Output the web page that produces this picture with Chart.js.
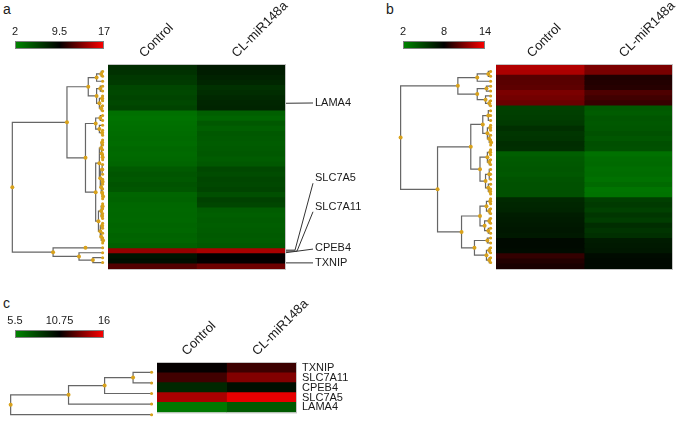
<!DOCTYPE html>
<html>
<head>
<meta charset="utf-8">
<script src="https://cdn.jsdelivr.net/npm/chart.js@4.4.0/dist/chart.umd.min.js"></script>
<style>
    body { margin: 0; background: #fff; width: 685px; height: 425px; position: relative; overflow: hidden;
           font-family: "Liberation Sans", Arial, sans-serif; }
    canvas { position: absolute; }
    .tag { position: absolute; font-size: 14px; color: #1a1a1a; }
</style>
</head>
<body>
<div class="tag" style="left:3px;top:1px">a</div>
<div class="tag" style="left:386px;top:1px">b</div>
<div class="tag" style="left:3px;top:295px">c</div>

<canvas id="cbA" width="120" height="32" style="left:0;top:17px"></canvas>
<canvas id="dendA" width="108" height="204" style="left:0;top:65px"></canvas>
<canvas id="heatA" width="275" height="270" style="left:108px;top:0"></canvas>

<canvas id="cbB" width="112" height="32" style="left:388px;top:17px"></canvas>
<canvas id="dendB" width="104" height="204" style="left:392px;top:65px"></canvas>
<canvas id="heatB" width="189" height="270" style="left:496px;top:0"></canvas>

<canvas id="cbC" width="120" height="32" style="left:0;top:306px"></canvas>
<canvas id="dendC" width="157" height="61" style="left:0;top:363px"></canvas>
<canvas id="heatC" width="195" height="135" style="left:157px;top:290px"></canvas>

<script>
const columns = ['Control', 'CL-miR148a'];

// ---- panel a ----
const scaleA = [2, 9.5, 17];
const ticksA = ['2', '9.5', '17'];
const controlA = [7.0, 6.8, 6.4, 6.3, 5.6, 5.5, 5.7, 5.5, 5.8, 3.3,
                  3.1, 3.3, 3.4, 3.5, 3.6, 3.5, 3.7, 3.6, 3.7, 3.9,
                  4.5, 4.8, 4.6, 4.9, 4.7, 3.9, 4.0, 3.8, 3.7, 3.8,
                  3.7, 3.9, 3.8, 4.0, 3.9, 4.2, 13.9, 8.4, 8.7, 11.9];
const miR148aA = [8.1, 7.9, 7.6, 7.4, 6.8, 7.0, 7.3, 7.4, 7.5, 4.2,
                  3.9, 4.6, 4.2, 4.6, 4.5, 4.4, 4.5, 4.6, 4.4, 4.6,
                  5.5, 5.3, 5.6, 5.5, 5.7, 5.1, 5.9, 5.6, 4.4, 4.2,
                  4.4, 4.3, 4.4, 4.5, 4.4, 4.6, 14.5, 9.6, 9.6, 12.7];
// [height, child, child, ...], leaves are row numbers
const treeA = [99,
    [40,
        [17, [8, [3, 0, 1], 2], [8, [4, 3, 4], [5, [2, 5, 6], [3, 7, 8]]]],
        [20,
            [9, [4, 9, 10], [5, 11, [2, 12, 13]]],
            [9,
                [5, [3, [2, 14, 15], [2.5, 16, [1.5, 17, 18]]],
                    [4, [2, 19, 20, 21], [3, [1.5, 22, 23], [2, 24, [1, 25, 26]]]]],
                [6, [3, [1.5, 27, 28], [2, 29, 30]], [4, [2, 31, 32], [3, 33, [1, 34, 35]]]]]]],
    [55, [20, 36], [27, 37, [12, 38, 39]]]];
const genesA = ['LAMA4', 'SLC7A5', 'SLC7A11', 'CPEB4', 'TXNIP'];
const geneRowsA = [7, 35.8, 36, 36.3, 38.3];

// ---- panel b ----
const scaleB = [2, 8, 14];
const ticksB = ['2', '8', '14'];
const controlB = [12.2, 12.0, 10.0, 10.1, 10.2, 10.9, 10.7, 10.5, 5.1, 5.2,
                  5.3, 5.4, 5.9, 5.6, 5.7, 6.0, 5.9, 3.8, 4.0, 4.1,
                  4.2, 4.1, 4.3, 4.4, 4.4, 4.4, 6.2, 6.3, 6.4, 6.7,
                  6.8, 6.9, 7.0, 6.9, 7.6, 7.6, 7.5, 9.2, 8.8, 8.6];
const miR148aB = [10.9, 10.8, 8.7, 8.8, 8.9, 9.8, 9.5, 9.3, 4.1, 3.9,
                  4.2, 4.1, 4.2, 4.4, 4.2, 4.5, 4.4, 3.0, 3.2, 3.3,
                  3.1, 3.2, 3.0, 3.3, 2.8, 2.9, 5.2, 5.4, 5.1, 5.6,
                  5.3, 6.0, 5.7, 5.9, 6.8, 6.9, 7.0, 7.5, 7.6, 7.6];
const treeB = [99,
    [37, [16, [4, 0, 1], 2], [16, [6, 3, 4], [7, 5, [3, 6, 7]]]],
    [59,
        [23,
            [10, [4, 8, 9, 10], [5, [2, 11, 12], [3, 13, [1, 14, 15]]]],
            [13, [5, [2, 16, 17], [3, 18, 19]], [7, [3, 20, 21, 22], [4, 23, [2, 24, 25]]]]],
        [33,
            [13, [6, [2, 26, 27], [3, 28, 29]], [8, [3, 30, 31], [4, 32, 33]]],
            [19, [5, 34, 35], [6, [3, 36, 37], [3, 38, 39]]]]]];

// ---- panel c ----
const scaleC = [5.5, 10.75, 16];
const ticksC = ['5.5', '10.75', '16'];
const genesC = ['TXNIP', 'SLC7A11', 'CPEB4', 'SLC7A5', 'LAMA4'];
const controlC = [10.85, 12.09, 9.19, 14.25, 6.08];
const miR148aC = [11.99, 13.43, 10.17, 15.49, 7.25];
const treeC = [150, [89, [51, [21, 0, 1], 2], 3], 4];

const FONT = '"Liberation Sans", Arial, sans-serif';
Chart.defaults.font.family = FONT;
Chart.defaults.color = '#1a1a1a';

// green -> black -> red
function heatColor(v, s) {
    const [lo, mid, hi] = s;
    if (v <= mid) {
        const t = Math.min(1, (mid - v) / (mid - lo));
        return 'rgb(0,' + Math.round(135 * t) + ',0)';
    }
    const t = Math.min(1, (v - mid) / (hi - mid));
    return 'rgb(' + Math.round(255 * t) + ',0,0)';
}

const heatDecor = {
    id: 'heatDecor',
    afterDatasetsDraw(chart, args, o) {
        const { ctx, chartArea: a, scales: { x, y } } = chart;
        ctx.save();
        ctx.strokeStyle = '#c4c4c4';
        ctx.lineWidth = 1;
        ctx.strokeRect(a.left - 0.5, a.top - 0.5, a.right - a.left + 1, a.bottom - a.top + 1);

        // rotated column titles
        ctx.font = '13px ' + FONT;
        ctx.fillStyle = '#1a1a1a';
        ctx.textBaseline = 'alphabetic';
        columns.forEach((c, j) => {
            const cx = (x.getPixelForValue(j) + x.getPixelForValue(j + 1)) / 2 + o.shift[j];
            ctx.save();
            ctx.translate(cx, a.top - 7);
            ctx.rotate(-Math.PI / 4);
            ctx.fillText(c, 0, 0);
            ctx.restore();
        });

        // gene call-outs on the right
        ctx.font = '11px ' + FONT;
        ctx.textBaseline = 'middle';
        ctx.strokeStyle = '#333';
        (o.callouts || []).forEach(c => {
            const ys = y.getPixelForValue(c.row);
            const yl = y.getPixelForValue(c.at);
            const x0 = a.right + 1, x2 = a.right + 28;
            ctx.beginPath();
            ctx.moveTo(x0, ys);
            ctx.lineTo(x0 + c.bend, ys);
            ctx.lineTo(x2, yl + c.lift);
            ctx.stroke();
            ctx.fillText(c.text, x2 + 2, yl);
        });
        ctx.restore();
    }
};

function heatmap(id, rows, ctrl, treated, scale, opts) {
    new Chart(document.getElementById(id), {
        type: 'bar',
        data: {
            labels: rows,
            datasets: [ctrl, treated].map((vals, j) => ({
                label: columns[j],
                data: vals.map(() => [j, j + 1]),
                backgroundColor: vals.map(v => heatColor(v, scale)),
                borderWidth: 0,
                inflateAmount: 0.4,
                grouped: false,
                barPercentage: 1,
                categoryPercentage: 1
            }))
        },
        options: {
            indexAxis: 'y',
            responsive: false,
            animation: false,
            layout: { padding: opts.padding },
            plugins: {
                legend: { display: false },
                tooltip: { enabled: false },
                heatDecor: { shift: opts.shift, callouts: opts.callouts }
            },
            scales: {
                x: { min: 0, max: 2, display: false },
                y: opts.yAxis || { display: false }
            }
        },
        plugins: [heatDecor]
    });
}

function dendrogram(id, tree, nLeaves, span) {
    const segs = [], nodes = [], leaves = [];
    function walk(node) {
        if (typeof node === 'number') {
            leaves.push({ x: 1.5, y: node });
            return { h: 0, y: node };
        }
        const [h, ...kids] = node;
        const ch = kids.map(walk);
        const first = ch[0], last = ch[ch.length - 1];
        segs.push([{ x: first.h, y: first.y }, { x: h, y: first.y }, { x: h, y: last.y }, { x: last.h, y: last.y }]);
        ch.slice(1, -1).forEach(c => segs.push([{ x: c.h, y: c.y }, { x: h, y: c.y }]));
        const y = (first.y + last.y) / 2;
        nodes.push({ x: h, y: y });
        return { h, y };
    }
    walk(tree);

    const dot = { showLine: false, pointBackgroundColor: '#d9a21b', pointBorderWidth: 0, clip: false };
    new Chart(document.getElementById(id), {
        type: 'scatter',
        data: {
            datasets: [
                Object.assign({ data: nodes, pointRadius: 2 }, dot),
                Object.assign({ data: leaves, pointRadius: 1.5 }, dot)
            ].concat(segs.map(s => ({
                data: s,
                showLine: true,
                borderColor: '#666',
                borderWidth: 1.2,
                pointRadius: 0,
                clip: false
            })))
        },
        options: {
            responsive: false,
            animation: false,
            layout: { padding: 0 },
            plugins: { legend: { display: false }, tooltip: { enabled: false } },
            scales: {
                x: { type: 'linear', min: 0, max: span, reverse: true, display: false },
                y: { type: 'linear', min: -0.5, max: nLeaves - 0.5, reverse: true, display: false }
            }
        }
    });
}

function colorBar(id, scale, labels, pad) {
    new Chart(document.getElementById(id), {
        type: 'bar',
        data: {
            labels: [''],
            datasets: [{
                data: [[scale[0], scale[2]]],
                backgroundColor: c => {
                    const ca = c.chart.chartArea;
                    if (!ca) return '#000';
                    const g = c.chart.ctx.createLinearGradient(ca.left, 0, ca.right, 0);
                    g.addColorStop(0, 'rgb(0,135,0)');
                    g.addColorStop(0.5, '#000');
                    g.addColorStop(1, '#ff0000');
                    return g;
                },
                borderColor: '#808080',
                borderWidth: 1,
                borderSkipped: false,
                inflateAmount: 0,
                barPercentage: 1,
                categoryPercentage: 1
            }]
        },
        options: {
            indexAxis: 'y',
            responsive: false,
            animation: false,
            layout: { padding: { left: pad[0], right: pad[1], top: 0, bottom: 0 } },
            plugins: { legend: { display: false }, tooltip: { enabled: false } },
            scales: {
                x: {
                    position: 'top',
                    min: scale[0],
                    max: scale[2],
                    grid: { display: false, drawTicks: false },
                    border: { display: false },
                    afterBuildTicks: s => { s.ticks = scale.map(v => ({ value: v })); },
                    afterFit: s => { s.height = 24; },
                    ticks: {
                        padding: 2,
                        maxRotation: 0,
                        autoSkip: false,
                        font: { size: 11 },
                        color: '#1a1a1a',
                        callback: (v, i) => labels[i]
                    }
                },
                y: { display: false }
            }
        }
    });
}

// panel a
colorBar('cbA', scaleA, ticksA, [15, 16]);
dendrogram('dendA', treeA, controlA.length, 108);
heatmap('heatA', controlA.map((_, i) => i), controlA, miR148aA, scaleA, {
    padding: { top: 65, right: 98, bottom: 1, left: 0 },
    shift: [-8, -4],
    callouts: [
        { text: genesA[0], row: geneRowsA[0], at: 6.95, bend: 0, lift: 0 },
        { text: genesA[1], row: geneRowsA[1], at: 21.7, bend: 9, lift: 5 },
        { text: genesA[2], row: geneRowsA[2], at: 27.3, bend: 11, lift: 5 },
        { text: genesA[3], row: geneRowsA[3], at: 35.4, bend: 0, lift: 1 },
        { text: genesA[4], row: geneRowsA[4], at: 38.3, bend: 0, lift: 0 }
    ]
});

// panel b
colorBar('cbB', scaleB, ticksB, [15, 15]);
dendrogram('dendB', treeB, controlB.length, 104);
heatmap('heatB', controlB.map((_, i) => i), controlB, miR148aB, scaleB, {
    padding: { top: 65, right: 13, bottom: 1, left: 0 },
    shift: [-8, -4]
});

// panel c
colorBar('cbC', scaleC, ticksC, [15, 16]);
dendrogram('dendC', treeC, genesC.length, 157);
heatmap('heatC', genesC, controlC, miR148aC, scaleC, {
    padding: { top: 73, right: 0, bottom: 1, left: 0 },
    shift: [-5, -4],
    yAxis: {
        position: 'right',
        grid: { display: false, drawTicks: false },
        border: { display: false },
        afterFit: s => { s.width = 56; },
        ticks: { padding: 6, autoSkip: false, font: { size: 11 }, color: '#1a1a1a' }
    }
});
</script>
</body>
</html>
